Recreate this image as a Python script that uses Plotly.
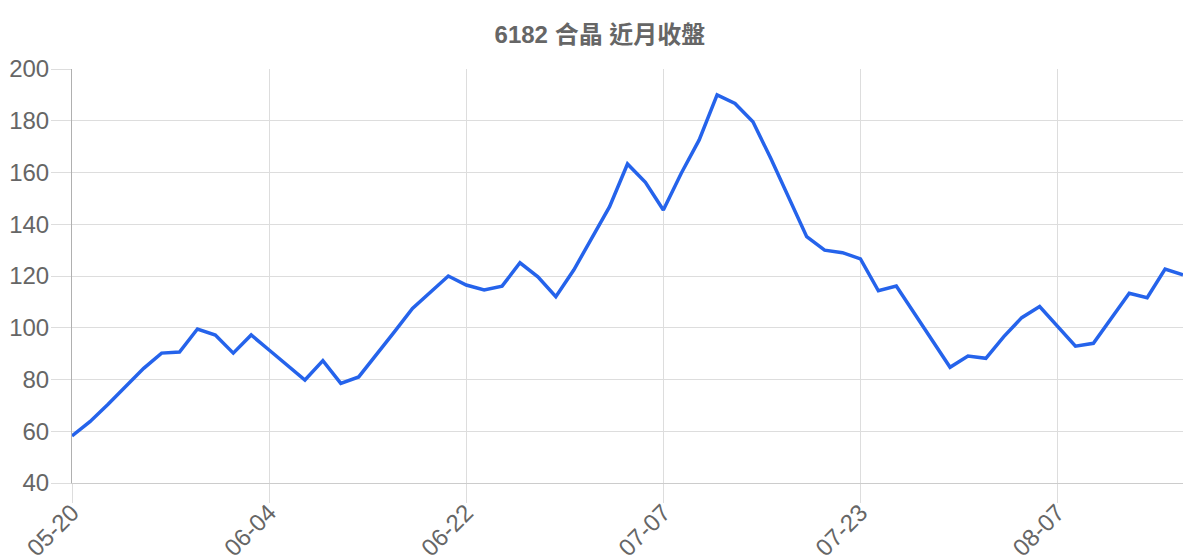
import plotly.graph_objects as go

# 6182 合晶 近月收盤
dates = [
    "05-20", "05-21", "05-24", "05-25", "05-26", "05-27", "05-28", "05-31",
    "06-01", "06-02", "06-03", "06-04", "06-07", "06-08", "06-09", "06-10",
    "06-11", "06-15", "06-16", "06-17", "06-18", "06-21", "06-22", "06-23",
    "06-24", "06-25", "06-28", "06-29", "06-30", "07-01", "07-02", "07-05",
    "07-06", "07-07", "07-08", "07-09", "07-12", "07-13", "07-14", "07-15",
    "07-16", "07-19", "07-20", "07-21", "07-23", "07-26", "07-27", "07-28",
    "07-29", "07-30", "08-02", "08-03", "08-04", "08-05", "08-06", "08-07",
    "08-09", "08-10", "08-11", "08-12", "08-13", "08-16", "08-17",
]

closes = [
    58.2, 63.7, 70.3, 77.3, 84.3, 90.2, 90.6, 99.5, 97.2, 90.2,
    97.2, 91.4, 85.6, 79.8, 87.3, 78.5, 81.0, 89.5, 98.5, 107.5,
    113.9, 120.0, 116.5, 114.6, 116.1, 125.1, 119.7, 112.0, 122.3, 134.6,
    146.8, 163.3, 156.2, 145.5, 159.7, 172.6, 190.0, 186.7, 179.6, 165.4,
    150.0, 135.2, 130.0, 129.0, 126.6, 114.3, 116.1, 105.7, 95.1, 84.7,
    89.1, 88.2, 96.6, 103.9, 108.2, 100.7, 92.9, 94.0, 103.6, 113.3,
    111.6, 122.7, 120.4,
]

tick_dates = ["05-20", "06-04", "06-22", "07-07", "07-23", "08-07"]

font_family = "Liberation Sans, Arial, Noto Sans CJK TC, sans-serif"
grid_color = "#dddddd"

fig = go.Figure(go.Scatter(
    x=dates,
    y=closes,
    mode="lines",
    line=dict(color="#2563eb", width=3.5),
    hovertemplate="%{x}<br>%{y}<extra></extra>",
))

# the page body adds an 8px offset, margins account for it
fig.update_layout(
    width=1200,
    height=560,
    paper_bgcolor="white",
    plot_bgcolor="white",
    showlegend=False,
    margin=dict(l=64, r=25, t=61, b=85),
    font=dict(family=font_family, color="#666666"),
    title=dict(
        text="<b>6182 合晶 近月收盤</b>",
        x=0.4933,
        xanchor="center",
        y=0.953,
        yanchor="middle",
        font=dict(size=24, color="#666666", family=font_family),
    ),
)

fig.update_xaxes(
    type="category",
    range=[0, len(dates) - 1],
    tickmode="array",
    tickvals=tick_dates,
    ticktext=tick_dates,
    tickangle=-45,
    tickfont=dict(size=24, color="#666666"),
    ticks="outside",
    ticklen=19,
    tickcolor=grid_color,
    ticklabelstandoff=-14,
    showgrid=True,
    gridcolor=grid_color,
    gridwidth=1,
    showline=True,
    linecolor="#cccccc",
    linewidth=1,
    zeroline=False,
    automargin=False,
)

fig.update_yaxes(
    range=[40, 200],
    dtick=20,
    tick0=40,
    tickfont=dict(size=24, color="#666666"),
    ticks="outside",
    ticklen=20,
    tickcolor=grid_color,
    ticklabelstandoff=-3,
    showgrid=True,
    gridcolor=grid_color,
    gridwidth=1,
    showline=True,
    linecolor="#b0b0b0",
    linewidth=1,
    zeroline=False,
    automargin=False,
)

fig.write_html("out.html")
